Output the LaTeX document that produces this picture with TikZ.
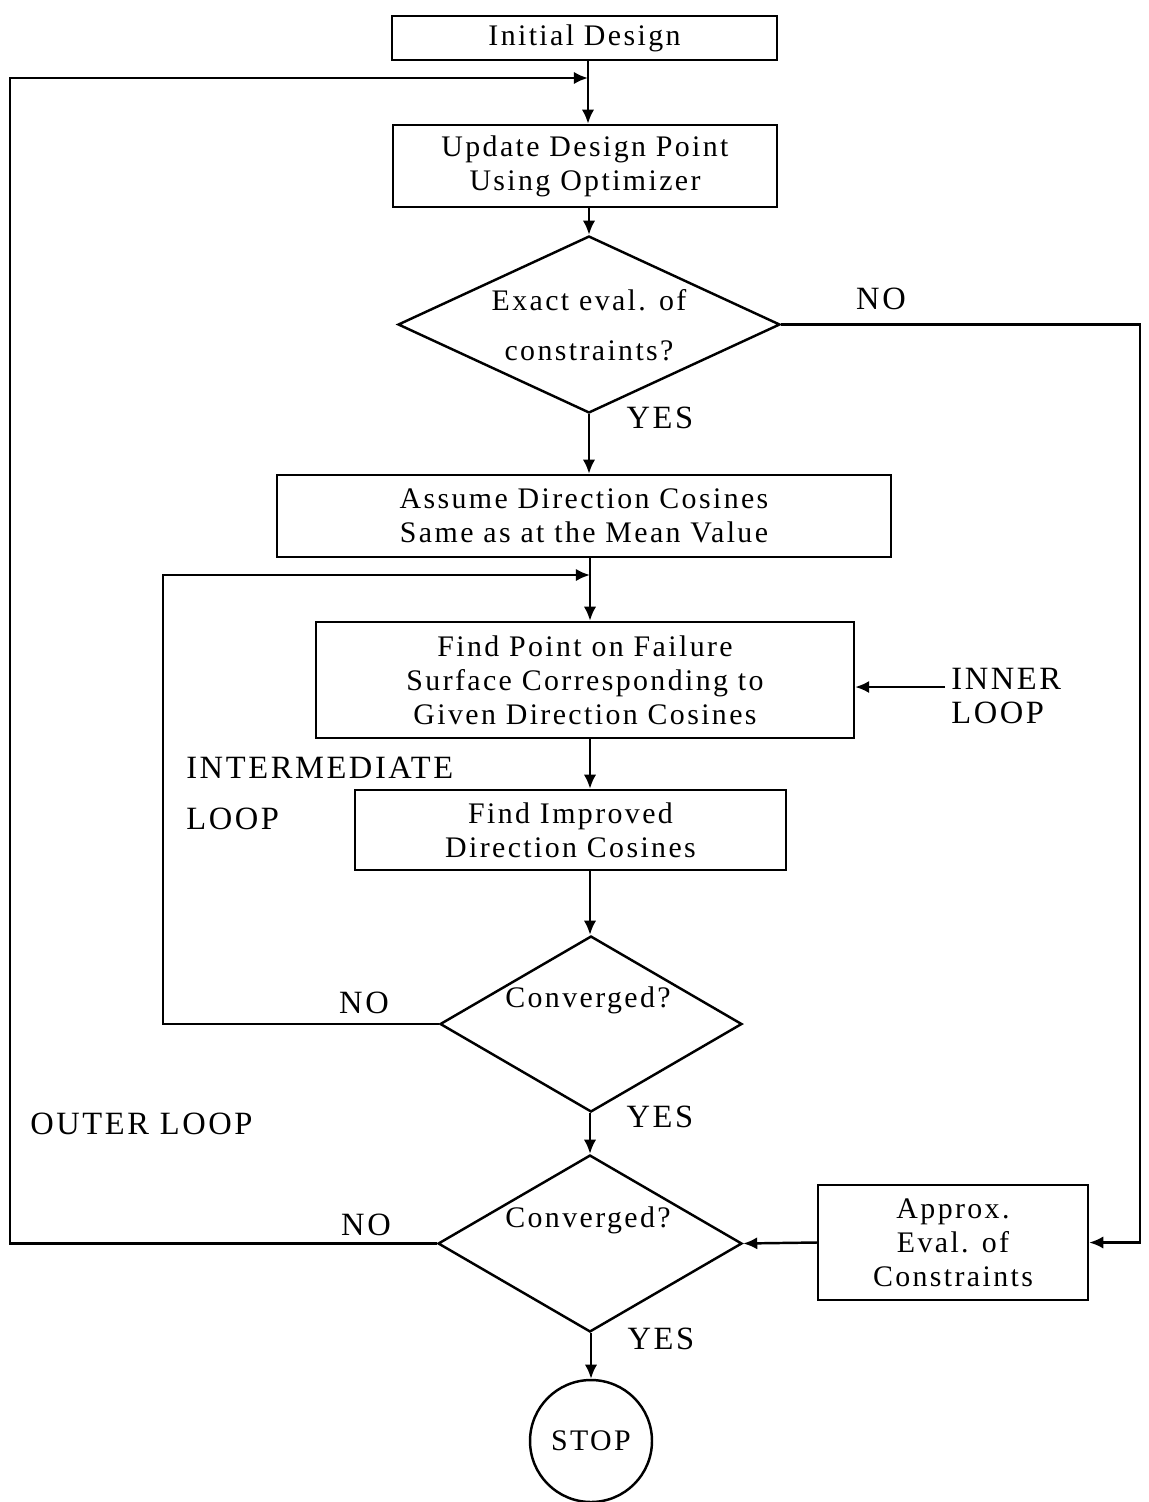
\documentclass[tikz,border=0pt]{standalone}
\usepackage{fontspec}
\setmainfont[LetterSpace=8]{Liberation Serif}
\usetikzlibrary{shapes.geometric,arrows.meta}
\begin{document}
\begin{tikzpicture}[x=0.02cm,y=-0.02cm,
  every node/.style={font=\fontsize{17}{19.3}\selectfont},
  box/.style={draw,line width=1.4pt,align=center,inner sep=0pt},
  dia/.style={draw,diamond,line width=1.4pt,inner sep=0pt},
  lbl/.style={inner sep=0pt},
  caplbl/.style={inner sep=0pt,font=\fontsize{18.5}{21}\selectfont},
  arr/.style={line width=1.4pt,-{Latex[length=8pt,width=7pt]}},
  ln/.style={line width=1.4pt}]
\useasboundingbox (0,0) rectangle (1149,1502);
% boxes
\node[box,minimum width=7.7cm,minimum height=0.88cm] (init) at (584.5,38) {Initial Design};
\node[box,minimum width=7.68cm,minimum height=1.64cm] (upd) at (585,166) {Update Design Point\\Using Optimizer};
\node[dia,minimum width=7.64cm,minimum height=3.54cm] (d1) at (589,324.5) {};
\node[lbl,align=center] (d1t) at (589,325) {Exact eval. of\\[9pt]constraints?};
\node[box,minimum width=12.28cm,minimum height=1.64cm] (asm) at (584,516) {Assume Direction Cosines\\Same as at the Mean Value};
\node[box,minimum width=10.76cm,minimum height=2.32cm] (fp) at (585,680) {Find Point on Failure\\Surface Corresponding to\\Given Direction Cosines};
\node[box,minimum width=8.62cm,minimum height=1.6cm] (imp) at (570.5,830) {Find Improved\\Direction Cosines};
\node[dia,minimum width=6.04cm,minimum height=3.52cm] (d2) at (591,1024) {};
\node[lbl] (d2t) at (588,1000) {Converged?};
\node[dia,minimum width=6.08cm,minimum height=3.54cm] (d3) at (590,1243.5) {};
\node[lbl] (d3t) at (588,1220) {Converged?};
\node[box,minimum width=5.4cm,minimum height=2.3cm] (apx) at (953,1242.5) {Approx.\\Eval. of\\Constraints};
\node[draw,circle,line width=1.4pt,minimum size=2.44cm,inner sep=0pt] (stop) at (591,1441) {STOP};
% labels
\node[caplbl] (no1) at (881,299) {NO};
\node[caplbl] (yes1) at (660,418) {YES};
\node[caplbl] (no2) at (364,1003) {NO};
\node[caplbl] (yes2) at (660,1117) {YES};
\node[caplbl] (no3) at (366,1225) {NO};
\node[caplbl] (yes3) at (661,1339) {YES};
\node[caplbl,anchor=west] (inner1) at (951,679) {INNER};
\node[caplbl,anchor=west] (inner2) at (951,713) {LOOP};
\node[caplbl,anchor=west] (int1) at (186,768) {INTERMEDIATE};
\node[caplbl,anchor=west] (int2) at (186,819) {LOOP};
\node[caplbl,anchor=west] (outer) at (30,1124) {OUTER LOOP};
% coordinates
\coordinate (j1) at (588,78);
\coordinate (ol) at (10,78);
\coordinate (j2) at (590,575);
\coordinate (il) at (163,575);
\coordinate (rc) at (1140,324.5);
\coordinate (inl) at (945,687);
% connectors
\draw[arr] (init.south -| j1) -- (upd.north -| j1);
\draw[arr] (upd.south -| d1.north) -- (d1.north);
\draw[arr] (d1.south) -- (asm.north -| d1.south);
\draw[arr] (asm.south -| j2) -- (fp.north -| j2);
\draw[arr] (fp.south -| j2) -- (imp.north -| j2);
\draw[arr] (imp.south -| j2) -- (d2.north -| j2);
\draw[arr] (d2.south -| d3.north) -- (d3.north);
\draw[arr] (d3.south -| stop.north) -- (stop.north);
\draw[arr] (d3.west) -| (ol) -- (j1);
\draw[arr] (d2.west) -| (il) -- (j2);
\draw[arr] (d1.east) -- (rc) |- (apx.east);
\draw[arr] (apx.west) -- (d3.east);
\draw[arr] (inl) -- (fp.east |- inl);
\end{tikzpicture}
\end{document}
